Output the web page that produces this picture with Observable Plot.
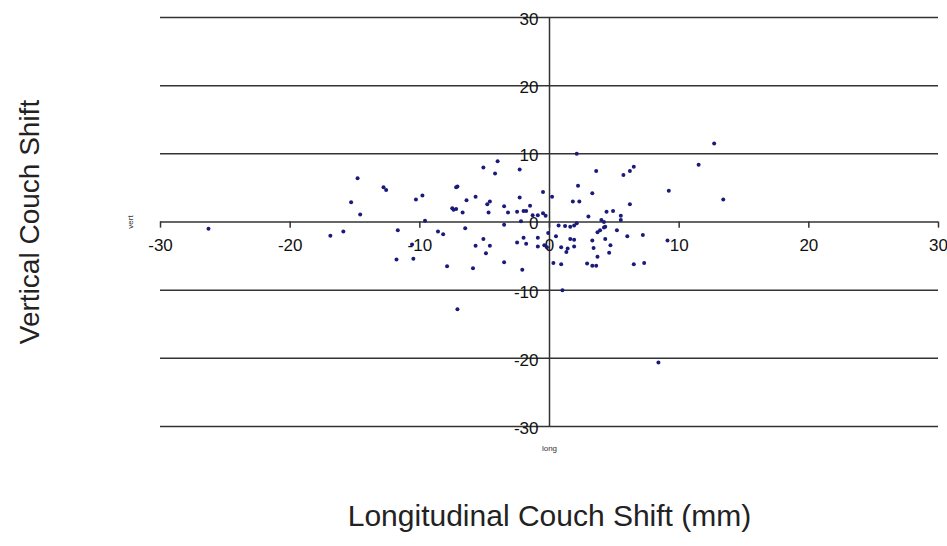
<!DOCTYPE html>
<html>
<head>
<meta charset="utf-8">
<script src="https://cdn.jsdelivr.net/npm/d3@7"></script>
<script src="https://cdn.jsdelivr.net/npm/@observablehq/plot@0.6"></script>
<style>
  html, body { margin: 0; padding: 0; background: #fff; overflow: hidden; }
</style>
</head>
<body>
<div id="chart"></div>
<script>
// Longitudinal (x, mm) and vertical (y, mm) couch shifts
const longShift = [
  -26.3,-16.9,-15.9,-15.3,-14.8,-14.6,-12.8,-12.6,-11.7,-11.8,-10.5,-10.6,-10.3,-9.8,-9.6,
  -8.6,-8.2,-7.9,-7.5,-7.4,-7.2,-7.2,-7.1,-7.1,-6.7,-6.5,-6.4,-5.9,-5.7,-5.7,
  -5.1,-5.1,-4.9,-4.8,-4.6,-4.7,-4.6,-4.2,-4.0,-3.5,-3.5,-3.5,-3.2,-2.5,-2.5,
  -2.3,-2.3,-2.1,-2.0,-2.0,-1.8,-2.2,-1.8,-1.5,-1.3,-0.9,-0.9,-0.9,-0.5,-0.3,
  -0.5,-0.4,0.2,0.3,-0.1,0.5,1.0,2.1,3.6,2.2,3.3,1.8,2.3,5.7,6.2,
  6.5,6.2,9.2,11.5,12.7,13.4,3.0,4.4,4.9,5.5,5.5,4.0,4.2,0.7,1.2,
  1.6,1.9,2.1,4.2,4.3,3.9,3.7,5.2,6.0,7.2,9.1,1.6,1.9,3.3,4.3,
  4.7,-0.2,0.9,1.4,1.9,1.3,3.4,4.6,3.7,0.9,2.9,3.3,3.6,6.5,7.3,
  8.4
];
const vertShift = [
  -1.0,-2.0,-1.4,2.9,6.4,1.1,5.1,4.7,-1.2,-5.5,-5.4,-3.3,3.3,3.9,0.2,
  -1.4,-1.8,-6.5,2.0,1.8,1.9,5.1,5.2,-12.8,1.4,-0.9,3.2,-6.8,3.7,-3.5,
  8.0,-2.5,-4.6,2.6,3.0,1.4,-3.5,7.1,8.9,2.3,-0.4,-5.9,1.4,1.5,-3.0,
  7.7,3.6,-7.0,-2.3,1.6,1.6,0.1,-3.2,2.4,1.0,-2.3,-3.6,1.0,1.3,0.9,
  4.4,-3.4,3.7,-6.0,-1.6,-2.1,-10.0,10.0,7.5,5.3,4.2,3.0,3.0,6.9,7.5,
  8.1,2.6,4.6,8.4,11.5,3.3,0.8,1.5,1.6,0.9,0.3,0.3,0.0,-0.5,-0.6,
  -0.7,-0.5,-0.2,-0.8,-0.7,-1.2,-1.5,-1.2,-2.1,-1.9,-2.7,-2.5,-2.6,-2.7,-2.5,
  -3.4,-3.7,-3.7,-3.9,-3.6,-4.4,-3.8,-4.5,-5.1,-6.2,-6.1,-6.4,-6.4,-6.2,-6.0,
  -20.6
];
const xTicks = [-30, -20, -10, 0, 10, 20, 30];
const yTicks = [-30, -20, -10, 0, 10, 20, 30];
const xTickLabels = ["-30", "-20", "-10", "0", "10", "20", "30"];
const yTickLabels = ["-30", "-20", "-10", "0", "10", "20", "30"];
const xTitle = "Longitudinal Couch Shift (mm)";
const yTitle = "Vertical Couch Shift";
const xSeriesName = "long";
const ySeriesName = "vert";

const points = longShift.map((x, i) => ({x, y: vertShift[i]}));
const xLab = xTicks.map((t, i) => ({t, label: xTickLabels[i]}));
const yLab = yTicks.map((t, i) => ({t, label: yTickLabels[i]}));

const font = "Liberation Sans, Arial, sans-serif";

const chart = Plot.plot({
  width: 947,
  height: 546,
  marginLeft: 160,
  marginRight: 9,
  marginTop: 17,
  marginBottom: 120,
  style: {fontFamily: font, background: "#fff"},
  x: {domain: [-30, 30], axis: null},
  y: {domain: [-30, 30], axis: null},
  marks: [
    Plot.ruleY(yTicks, {y: d => d, stroke: "#333", strokeWidth: 1.5}),
    Plot.ruleX([0], {stroke: "#333", strokeWidth: 1.5}),
    Plot.ruleX(xTicks, {x: d => d, y1: 0, y2: -0.9, stroke: "#333", strokeWidth: 1.5}),
    Plot.text(xLab, {x: "t", y: 0, text: "label", dy: 24, fontSize: 17, fill: "#111"}),
    Plot.text(yLab, {x: 0, y: "t", text: "label", dx: -11, dy: 2, textAnchor: "end", fontSize: 17, fill: "#111"}),
    Plot.dot(points, {x: "x", y: "y", r: 2, fill: "#1a1a7a", stroke: "none"}),
    Plot.text([ySeriesName], {frameAnchor: "left", dx: -30, text: d => d, rotate: -90, textAnchor: "middle", fontSize: 8, fill: "#333"}),
    Plot.text([xSeriesName], {frameAnchor: "bottom", x: 0, dy: 24, text: d => d, fontSize: 8, fill: "#333"}),
    Plot.text([xTitle], {frameAnchor: "bottom", x: 0, dy: 99, text: d => d, fontSize: 30, fill: "#222"}),
    Plot.text([yTitle], {frameAnchor: "left", dx: -130, text: d => d, rotate: -90, textAnchor: "middle", fontSize: 28, fill: "#222"})
  ]
});
document.getElementById("chart").appendChild(chart);
</script>
</body>
</html>
